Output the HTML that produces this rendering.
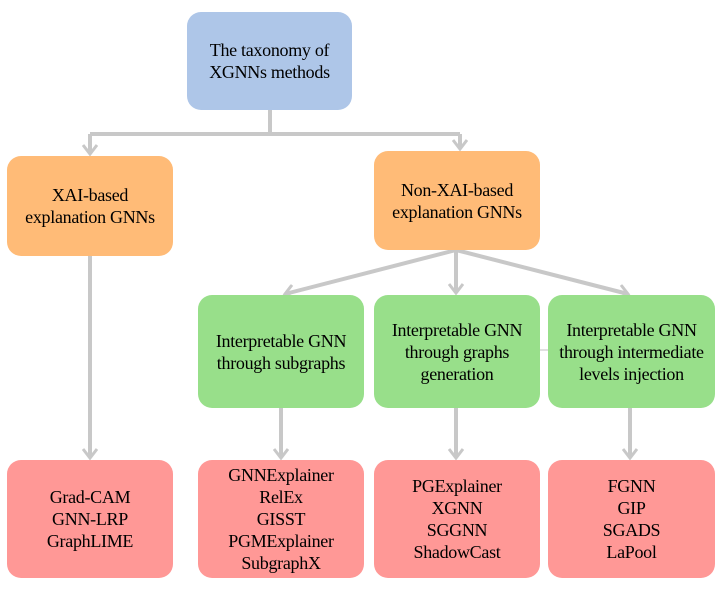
<!DOCTYPE html>
<html><head><style>
body{margin:0;width:725px;height:591px;background:#fff;position:relative;overflow:hidden;font-family:"Liberation Serif",serif;}
.b{position:absolute;border-radius:14px;display:flex;align-items:center;justify-content:center;text-align:center;font-size:18px;line-height:22px;color:#000;letter-spacing:-0.3px;}
.blue{background:#aec6e8}.or{background:#ffbb77}.gr{background:#98df8a}.rd{background:#ff9896}
svg{position:absolute;left:0;top:0}
</style></head><body>
<svg width="725" height="591">
<defs><marker id="a" markerWidth="14" markerHeight="16" refX="11" refY="8" orient="auto" markerUnits="userSpaceOnUse" viewBox="0 0 14 16"><path d="M2,1 L11,8 L2,15" fill="none" stroke="#c8c8c8" stroke-width="3"/></marker></defs>
<g stroke="#c8c8c8" stroke-width="4" fill="none">
<path d="M270 110 V134"/>
<path d="M90 134 H460"/>
<path d="M90 134 V154" marker-end="url(#a)"/>
<path d="M460 134 V149" marker-end="url(#a)"/>
<path d="M90 256 V458" marker-end="url(#a)"/>
<path d="M456 250 L285 294" marker-end="url(#a)"/>
<path d="M456 250 V293" marker-end="url(#a)"/>
<path d="M456 250 L628 294" marker-end="url(#a)"/>
<path d="M281 408 V458" marker-end="url(#a)"/>
<path d="M456 408 V458" marker-end="url(#a)"/>
<path d="M630 408 V458" marker-end="url(#a)"/>
</g>
<path d="M540 350 H548" stroke="#e0e0e0" stroke-width="2"/>
</svg>
<div class="b blue" style="left:187px;top:12px;width:165px;height:98px">The taxonomy of<br>XGNNs methods</div>
<div class="b or" style="left:7px;top:156px;width:166px;height:100px">XAI-based<br>explanation GNNs</div>
<div class="b or" style="left:374px;top:151px;width:166px;height:99px">Non-XAI-based<br>explanation GNNs</div>
<div class="b gr" style="left:198px;top:295px;width:166px;height:113px">Interpretable GNN<br>through subgraphs</div>
<div class="b gr" style="left:374px;top:295px;width:166px;height:113px">Interpretable GNN<br>through graphs<br>generation</div>
<div class="b gr" style="left:548px;top:295px;width:167px;height:113px">Interpretable GNN<br>through intermediate<br>levels injection</div>
<div class="b rd" style="left:7px;top:460px;width:166px;height:118px">Grad-CAM<br>GNN-LRP<br>GraphLIME</div>
<div class="b rd" style="left:198px;top:460px;width:166px;height:118px">GNNExplainer<br>RelEx<br>GISST<br>PGMExplainer<br>SubgraphX</div>
<div class="b rd" style="left:374px;top:460px;width:166px;height:118px">PGExplainer<br>XGNN<br>SGGNN<br>ShadowCast</div>
<div class="b rd" style="left:548px;top:460px;width:167px;height:118px">FGNN<br>GIP<br>SGADS<br>LaPool</div>
</body></html>
